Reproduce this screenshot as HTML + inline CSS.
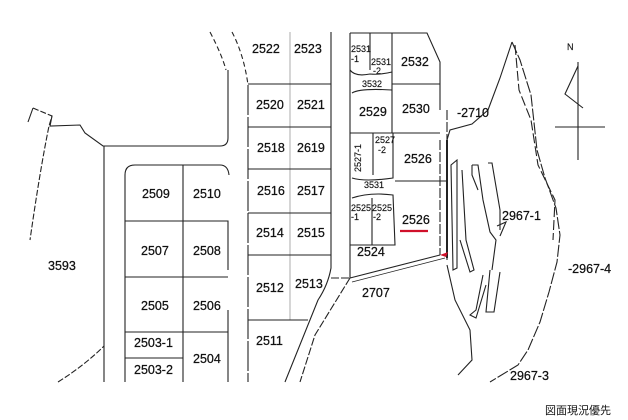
<!DOCTYPE html>
<html><head><meta charset="utf-8"><style>
html,body{margin:0;padding:0;background:#fff;width:628px;height:420px;overflow:hidden}
svg{display:block}
text{font-family:"Liberation Sans",sans-serif;font-size:12.5px;fill:#111;stroke:#111;stroke-width:0.25}
.s{font-size:9px;stroke-width:0.15}
</style></head><body>
<svg width="628" height="420" viewBox="0 0 628 420" xmlns="http://www.w3.org/2000/svg">
<g fill="none" stroke="#222" stroke-width="1.1">
<path d="M33,108 L52,116 L49,126 Q40,170 30,240" stroke-dasharray="6,2"/>
<path d="M33,108 L28,122"/>
<path d="M52,116 L50,126 L80,125 L85,133 L103,146 L220,146 Q228,146 228,138 L228,70" />
<path d="M210,32 Q222,55 226,70" stroke-dasharray="5,3"/>
<path d="M232,32 Q244,55 248,85" stroke-dasharray="5,3"/>
<path d="M104,146 L104,382"/>
<path d="M58,382 Q85,365 104,346" stroke-dasharray="6,2"/>
<path d="M125,382 L125,175 Q125,165 135,165 L220,165 Q228,165 229,175"/>
<path d="M183,165 L183,382"/>
<path d="M125,221 L228,221 L228,270"/>
<path d="M125,277 L228,277"/>
<path d="M125,332 L228,332"/>
<path d="M125,358 L183,358"/>
<path d="M228,310 L228,382"/>
<path d="M248,85 L248,382" stroke-dasharray="30,2"/>
<path d="M331,32 L331,268 Q328,285 318,300 L285,382"/>
<path d="M290,32 L290,320" stroke="#888" stroke-width="0.7"/>
<path d="M248,84 L331,84 M248,127 L331,127 M248,169 L331,169 M248,213 L331,213 M248,255 L331,255 M248,320 L308,320"/>
<path d="M331,278 L350,278 M350,278 L315,335 L300,382" stroke-dasharray="8,2"/>
<path d="M350,33 L427,33 L440,62 L440,110"/>
<path d="M392,33 L392,133 M392,84 L440,84 M350,133 L440,133"/>
<path d="M370,33 L370,70 M350,33 L350,278"/>
<path d="M350,70 Q355,77 370,74 Q380,75 392,72 M352,93 Q360,88 392,90"/>
<path d="M352,178 Q365,182 393,178 L393,133 M373,133 L373,175"/>
<path d="M395,181 L447,181"/>
<path d="M352,198 Q370,192 393,195 L395,245 L350,245"/>
<path d="M372,198 L372,245"/>
<path d="M350,278 L440,255"/>
<path d="M352,282 L445,258" stroke-width="0.8"/>
<path d="M440,140 L440,255 M447,110 L447,260" stroke-dasharray="10,2"/>
<path d="M447,140 L447,258" stroke-width="2"/>
<path d="M512,42 L520,60 L531,95 L537,150 L545,178 L556,208 L560,235 L557,262 L549,292 L540,322 L528,350 L518,365 L490,382" stroke-dasharray="12,2"/>
<path d="M512,42 L500,78 L488,110 L472,124 L450,130 L447,140"/>
<path d="M447,265 L455,300 L470,330 L472,360 L458,375"/>
<path d="M515,45 L519,90 L531,120 L538,165 L555,200 L553,240" stroke-dasharray="10,3"/>
<path d="M451,165 L457,160 L457,268 L453,270 Z"/>
<path d="M462,170 L466,240 L474,270 L470,272 L460,240"/>
<path d="M472,165 L478,165 L483,200 L490,232 L496,240 L492,270"/>
<path d="M472,165 L472,175 L478,190"/>
<path d="M488,163 L492,163 L500,210 L500,230"/>
<path d="M483,275 L476,310 L470,315 L476,318 L486,285"/>
<path d="M490,270 L486,312 L494,312 L500,272"/>
<path d="M497,226 L506,222 L500,236"/>
<path d="M578,62 L578,160 M555,127 L605,127"/>
<path d="M578,66 L565,94 L583,108"/>
</g>
<path d="M400,231 L428,231" stroke="#d0102a" stroke-width="2.2"/>
<path d="M440,255 L448,252 L446,257 Z" fill="#d0102a"/>
<g>
<text x="252" y="53">2522</text><text x="294" y="53">2523</text>
<text x="256" y="109">2520</text><text x="297" y="109">2521</text>
<text x="257" y="152">2518</text><text x="297" y="152">2619</text>
<text x="257" y="195">2516</text><text x="297" y="195">2517</text>
<text x="256" y="237">2514</text><text x="297" y="237">2515</text>
<text x="256" y="292">2512</text><text x="295" y="288">2513</text>
<text x="256" y="345">2511</text>
<text x="142" y="198">2509</text><text x="193" y="198">2510</text>
<text x="141" y="255">2507</text><text x="193" y="255">2508</text>
<text x="141" y="310">2505</text><text x="193" y="310">2506</text>
<text x="134" y="347">2503-1</text><text x="193" y="363">2504</text>
<text x="134" y="374">2503-2</text>
<text x="48" y="270">3593</text>
<text x="401" y="66">2532</text>
<text x="359" y="116">2529</text><text x="402" y="113">2530</text>
<text x="404" y="163">2526</text>
<text x="402" y="224">2526</text>
<text x="357" y="256">2524</text>
<text x="362" y="297">2707</text>
<text x="457" y="117">-2710</text>
<text x="502" y="220">2967-1</text>
<text x="568" y="273">-2967-4</text>
<text x="510" y="380">2967-3</text>
<text class="s" x="351" y="52">2531</text><text class="s" x="351" y="62">-1</text>
<text class="s" x="371" y="65">2531</text><text class="s" x="373" y="74">-2</text>
<text class="s" x="362" y="87">3532</text>
<text class="s" x="375" y="143">2527</text><text class="s" x="378" y="153">-2</text>
<text class="s" x="364" y="188">3531</text>
<text class="s" x="351" y="211">2525</text><text class="s" x="351" y="220">-1</text>
<text class="s" x="372" y="211">2525</text><text class="s" x="373" y="220">-2</text>
<text class="s" transform="translate(361,172) rotate(-90)">2527-1</text>
<text class="s" x="567" y="50">N</text>
<text x="545" y="414" style="font-family:'Liberation Sans','Noto Sans CJK JP',sans-serif;font-size:11px;stroke-width:0">図面現況優先</text>
</g>
</svg>
</body></html>
